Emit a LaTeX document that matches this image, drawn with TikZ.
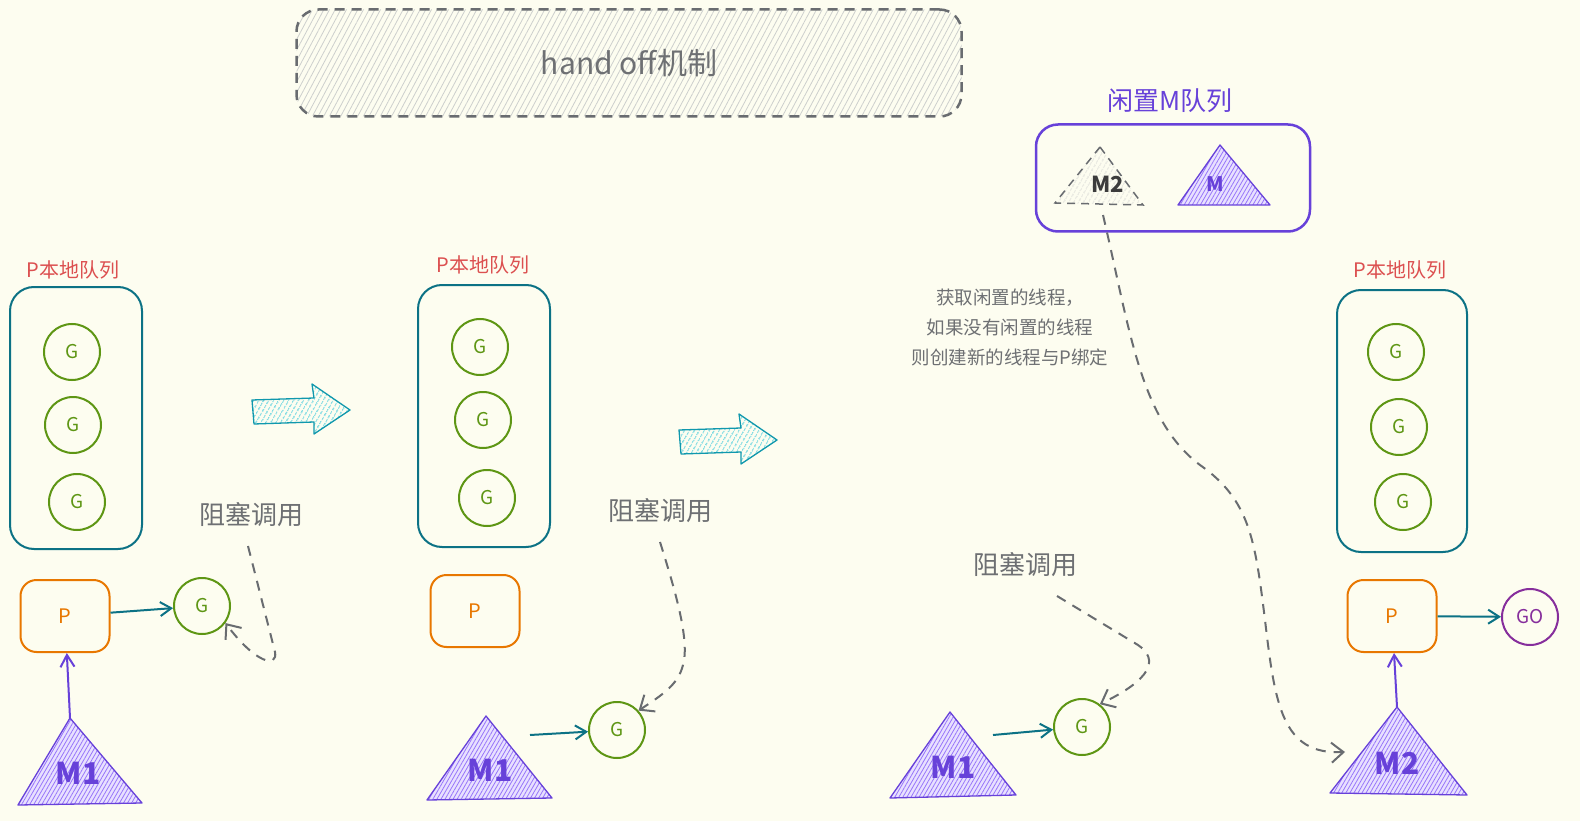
\documentclass[tikz,border=0pt]{standalone}
\usepackage{fontspec}
\setmainfont{Noto Sans CJK SC}
\usetikzlibrary{arrows.meta,patterns.meta}
\definecolor{bg}{RGB}{253,253,240}
\definecolor{qTeal}{RGB}{12,114,133}
\definecolor{gGreen}{RGB}{94,150,20}
\definecolor{pOrange}{RGB}{232,119,0}
\definecolor{mPurple}{RGB}{103,65,217}
\definecolor{mFill}{RGB}{232,224,255}
\definecolor{mHatch}{RGB}{151,117,250}
\definecolor{lRed}{RGB}{220,80,80}
\definecolor{tGray}{RGB}{110,112,115}
\definecolor{dGray}{RGB}{105,108,112}
\definecolor{hGray}{RGB}{205,207,205}
\definecolor{goPurple}{RGB}{134,46,156}
\definecolor{hCyan}{RGB}{59,201,219}
\definecolor{hTeal}{RGB}{16,152,173}
\definecolor{mDark}{RGB}{60,60,60}
\tikzset{
  gc/.style={circle, draw=gGreen, line width=2pt, minimum size=56pt, inner sep=0pt, text=gGreen, font=\fontsize{19}{19}\selectfont},
  queue/.style={draw=qTeal, line width=2pt, rounded corners=24pt, minimum width=132pt, minimum height=262pt},
  pbox/.style={draw=pOrange, line width=2pt, rounded corners=16pt, minimum width=89pt, minimum height=72pt, text=pOrange, font=\fontsize{20}{20}\selectfont},
  qlabel/.style={text=lRed, font=\fontsize{20}{20}\selectfont},
  blk/.style={text=tGray, font=\fontsize{26}{26}\selectfont},
  tarrow/.style={draw=qTeal, line width=2pt, -{Straight Barb[length=11pt,width=14pt]}},
  parrow/.style={draw=mPurple, line width=2pt, -{Straight Barb[length=12pt,width=14pt]}},
  darrow/.style={draw=dGray, line width=2pt, dash pattern=on 10pt off 8pt, -{Straight Barb[length=12pt,width=20pt]}},
  mtri/.style={draw=mPurple, line width=1.3pt, line join=round, preaction={fill=mFill}, pattern={Lines[angle=60,distance=3.5pt,line width=0.8pt]}, pattern color=mHatch},
  mlabel/.style={text=mPurple, font=\fontsize{30}{30}\selectfont\bfseries},
  harrow/.pic={
    \draw[draw=hTeal, line width=1.3pt, line join=round, preaction={pattern={Lines[angle=60,distance=4pt,line width=1pt]}, pattern color=hCyan}]
      (-48,-8) -- (14,-10) -- (12,-24) -- (50,2) -- (14,26) -- (14,14) -- (-46,16) -- cycle;
  }
}
\begin{document}
\begin{tikzpicture}[x=1pt,y=-1pt]
\fill[bg] (0,0) rectangle (1580,821);
\useasboundingbox (0,0) rectangle (1580,821);

% title
\node[draw=dGray, line width=2.5pt, dash pattern=on 10pt off 7pt, rounded corners=22pt,
  minimum width=665pt, minimum height=107pt,
  preaction={pattern={Lines[angle=62,distance=5pt,line width=0.8pt]}, pattern color=hGray},
  text=tGray, font=\fontsize{30}{30}\selectfont] (title) at (629,63) {hand off机制};

% ---------- column 1 ----------
\node[qlabel] (ql1) at (73,270) {P本地队列};
\node[queue] (q1) at (76,418) {};
\node[gc] (g1a) at (72,352) {G};
\node[gc] (g1b) at (73,425) {G};
\node[gc] (g1c) at (77,502) {G};
\node[pbox] (p1) at (65,616) {P};
\node[gc] (g1d) at (202,606) {G};
\coordinate (m1t) at (70,718);
\coordinate (m1l) at (18,805);
\coordinate (m1r) at (142,803);
\draw[mtri] (m1t) -- (m1l) -- (m1r) -- cycle;
\node[mlabel] (m1) at (78,773) {M1};
\draw[parrow] (m1t) -- (p1);
\draw[tarrow] (p1) -- (g1d);
\node[blk] (b1) at (251,515) {阻塞调用};
\coordinate (b1s) at (248,546);
\draw[darrow] (b1s) -- (275,652) .. controls (278,668) and (256,664) .. (g1d.-36);
\pic at (300,408) {harrow};

% ---------- column 2 ----------
\node[qlabel] (ql2) at (483,265) {P本地队列};
\node[queue] (q2) at (484,416) {};
\node[gc] (g2a) at (480,347) {G};
\node[gc] (g2b) at (483,420) {G};
\node[gc] (g2c) at (487,498) {G};
\node[pbox] (p2) at (475,611) {P};
\coordinate (m2t1) at (486,716);
\coordinate (m2l1) at (427,800);
\coordinate (m2r1) at (552,798);
\draw[mtri] (m2t1) -- (m2l1) -- (m2r1) -- cycle;
\node[mlabel] (m1b) at (490,770) {M1};
\node[gc] (g2) at (617,730) {G};
\coordinate (m1bs) at (530,735);
\draw[tarrow] (m1bs) -- (g2);
\node[blk] (b2) at (660,511) {阻塞调用};
\coordinate (b2s) at (660,542);
\draw[darrow] (b2s) .. controls (675,590) and (690,640) .. (683,665) .. controls (678,685) and (662,695) .. (g2.42);
\pic at (727,438) {harrow};

% ---------- idle M queue ----------
\node[text=mPurple, font=\fontsize{26}{26}\selectfont] (iq) at (1170,101) {闲置M队列};
\node[draw=mPurple, line width=2.5pt, rounded corners=22pt, minimum width=274pt, minimum height=107pt] (ibox) at (1173,178) {};
\coordinate (im2t) at (1100,147);
\coordinate (im2l) at (1055,203);
\coordinate (im2r) at (1143,205);
\draw[draw=dGray, line width=1.5pt, dash pattern=on 8pt off 6pt, preaction={pattern={Lines[angle=60,distance=4pt,line width=0.7pt]}, pattern color=hGray}]
  (im2t) -- (im2l) -- (im2r) -- cycle;
\node[text=mDark, font=\fontsize{22}{22}\selectfont\bfseries] (im2) at (1108,184) {M2};
\coordinate (imt) at (1220,145);
\coordinate (iml) at (1178,205);
\coordinate (imr) at (1270,205);
\draw[mtri] (imt) -- (iml) -- (imr) -- cycle;
\node[text=mPurple, font=\fontsize{20}{20}\selectfont\bfseries] (im) at (1215,184) {M};

\node[text=tGray, align=center, font=\fontsize{18.5}{30}\selectfont] (note) at (1010,327) {获取闲置的线程，\\如果没有闲置的线程\\则创建新的线程与P绑定};

% ---------- column 3 ----------
\node[blk] (b3) at (1025,565) {阻塞调用};
\coordinate (m3t) at (950,712);
\coordinate (m3l) at (890,798);
\coordinate (m3r) at (1016,795);
\draw[mtri] (m3t) -- (m3l) -- (m3r) -- cycle;
\node[mlabel] (m1c) at (953,767) {M1};
\node[gc] (g3) at (1082,727) {G};
\coordinate (m1cs) at (993,735);
\draw[tarrow] (m1cs) -- (g3);
\coordinate (b3s) at (1057,596);
\draw[darrow] (b3s) -- (1138,645) .. controls (1160,660) and (1150,680) .. (g3.52);

% ---------- column 4 ----------
\node[qlabel] (ql4) at (1400,270) {P本地队列};
\node[queue, minimum width=130pt] (q4) at (1402,421) {};
\node[gc] (g4a) at (1396,352) {G};
\node[gc] (g4b) at (1399,427) {G};
\node[gc] (g4c) at (1403,502) {G};
\node[pbox] (p4) at (1392,616) {P};
\node[gc, draw=goPurple, text=goPurple] (go) at (1530,617) {GO};
\draw[tarrow] (p4) -- (go);
\coordinate (m4t) at (1397,707);
\coordinate (m4l) at (1330,793);
\coordinate (m4r) at (1467,795);
\draw[mtri] (m4t) -- (m4l) -- (m4r) -- cycle;
\node[mlabel] (m2) at (1397,763) {M2};
\draw[parrow] (m4t) -- (p4);

% long dashed connector from idle M2 to new M2
\coordinate (m2s) at (1103,215);
\coordinate (m2e) at (1345,752);
\draw[darrow] (m2s) .. controls (1130,330) and (1140,420) .. (1200,465)
  .. controls (1250,500) and (1255,540) .. (1265,620)
  .. controls (1275,705) and (1282,755) .. (m2e);
\end{tikzpicture}
\end{document}
